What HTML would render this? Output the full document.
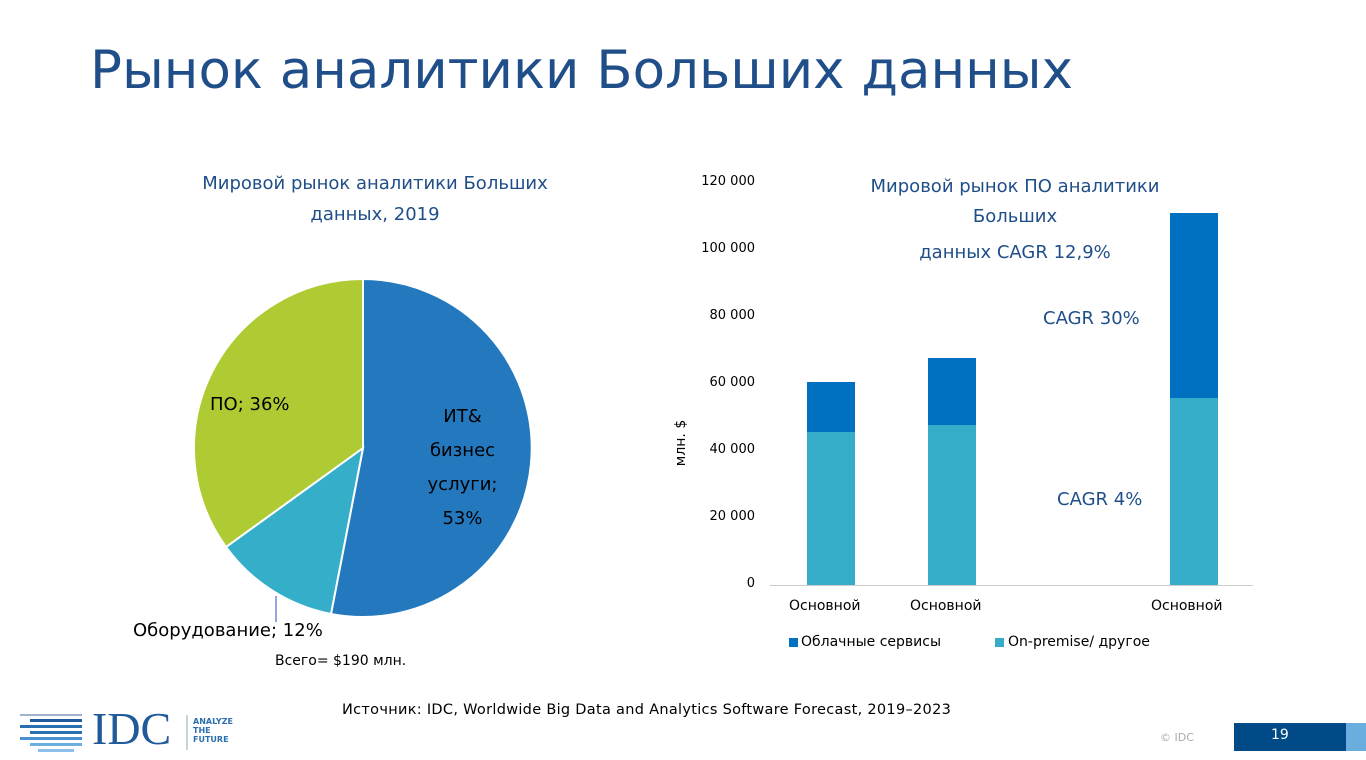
<!DOCTYPE html>
<html><head><meta charset="utf-8"><style>
body{margin:0;width:1366px;height:760px;background:#fff;position:relative;overflow:hidden;font-family:"DejaVu Sans","Liberation Sans",sans-serif}
.a{position:absolute;white-space:nowrap}
</style></head><body>
<div class="a" style="left:90px;top:40px;font-size:53px;color:#1F4E89">Рынок аналитики Больших данных</div>
<div class="a" style="left:165px;top:168px;width:420px;text-align:center;font-size:18px;color:#1F4E89;line-height:31px;white-space:normal">Мировой рынок аналитики Больших данных, 2019</div>
<svg class="a" style="left:0;top:0" width="1366" height="760">
<g stroke="#fff" stroke-width="2">
<path d="M363,448 L363,279 A169,169 0 1,1 331,614 Z" fill="#2479BE"/>
<path d="M363,448 L331,614 A169,169 0 0,1 226,547 Z" fill="#35AFC9"/>
<path d="M363,448 L226,547 A169,169 0 0,1 363,279 Z" fill="#AECB33"/>
</g>
<line x1="276" y1="596" x2="276" y2="622" stroke="#3344cc" stroke-width="1"/>
<line x1="770" y1="585.5" x2="1253" y2="585.5" stroke="#ccc"/>
<rect x="807" y="432" width="48" height="153" fill="#36ADC8"/>
<rect x="807" y="382" width="48" height="50" fill="#0070C0"/>
<rect x="928" y="425" width="48" height="160" fill="#36ADC8"/>
<rect x="928" y="358" width="48" height="67" fill="#0070C0"/>
<rect x="1170" y="398" width="48" height="187" fill="#36ADC8"/>
<rect x="1170" y="213" width="48" height="185" fill="#0070C0"/>
<rect x="789" y="638" width="9" height="9" fill="#0070C0"/>
<rect x="995" y="638" width="9" height="9" fill="#36ADC8"/>
<g>
<rect x="20" y="714" width="62" height="2" fill="#9fb4cc"/>
<rect x="30" y="719" width="52" height="3" fill="#1F5A9A"/>
<rect x="20" y="725" width="62" height="3" fill="#2a6fb0"/>
<rect x="30" y="731" width="52" height="3" fill="#2a6fb0"/>
<rect x="20" y="737" width="62" height="3" fill="#4a8fd0"/>
<rect x="30" y="743" width="52" height="3" fill="#6aaee0"/>
<rect x="38" y="749" width="36" height="3" fill="#8ac0ea"/>
</g>
<rect x="1234" y="723" width="112" height="28" fill="#004B87"/>
<rect x="1346" y="723" width="20" height="28" fill="#6AAEE0"/>
<line x1="187" y1="715" x2="187" y2="750" stroke="#8ab" />
</svg>
<div class="a" style="left:210px;top:394px;font-size:18px">ПО; 36%</div>
<div class="a" style="left:415px;top:400px;width:95px;text-align:center;font-size:18px;line-height:34px;white-space:normal">ИТ&amp; бизнес услуги; 53%</div>
<div class="a" style="left:133px;top:620px;font-size:18px">Оборудование; 12%</div>
<div class="a" style="left:275px;top:653px;font-size:14px">Всего= $190 млн.</div>
<div class="a" style="left:660px;top:175px;width:95px;text-align:right;font-size:13px;line-height:1">
<div style="position:absolute;right:0;top:0">120 000</div><div style="position:absolute;right:0;top:67px">100 000</div><div style="position:absolute;right:0;top:134px">80 000</div><div style="position:absolute;right:0;top:201px">60 000</div><div style="position:absolute;right:0;top:268px">40 000</div><div style="position:absolute;right:0;top:335px">20 000</div><div style="position:absolute;right:0;top:402px">0</div></div>
<div class="a" style="left:658px;top:435px;font-size:14px;transform:rotate(-90deg);transform-origin:center">млн. $</div>
<div class="a" style="left:830px;top:172px;width:370px;text-align:center;font-size:18px;color:#1F4E89;line-height:30px;white-space:normal">Мировой рынок ПО аналитики Больших<br><span style="position:relative;top:6px">данных CAGR 12,9%</span></div>
<div class="a" style="left:1043px;top:308px;font-size:18px;color:#1F4E89">CAGR 30%</div>
<div class="a" style="left:1057px;top:489px;font-size:18px;color:#1F4E89">CAGR 4%</div>
<div class="a" style="left:789px;top:598px;font-size:14px">Основной</div>
<div class="a" style="left:910px;top:598px;font-size:14px">Основной</div>
<div class="a" style="left:1151px;top:598px;font-size:14px">Основной</div>
<div class="a" style="left:801px;top:634px;font-size:14px">Облачные сервисы</div>
<div class="a" style="left:1008px;top:634px;font-size:14px">On-premise/ другое</div>
<div class="a" style="left:342px;top:702px;font-size:14.5px;letter-spacing:0.3px">Источник: IDC, Worldwide Big Data and Analytics Software Forecast,  2019–2023</div>
<div class="a" style="left:92px;top:706px;font-size:46px;font-family:'Liberation Serif',serif;color:#1F5A9A;line-height:1">IDC</div>
<div class="a" style="left:193px;top:717px;font-size:8px;color:#2a6fb0;line-height:9px;font-weight:bold">ANALYZE<br>THE<br>FUTURE</div>
<div class="a" style="left:1160px;top:731px;font-size:11px;color:#aaa">© IDC</div>
<div class="a" style="left:1271px;top:727px;font-size:14px;color:#fff">19</div>
</body></html>
